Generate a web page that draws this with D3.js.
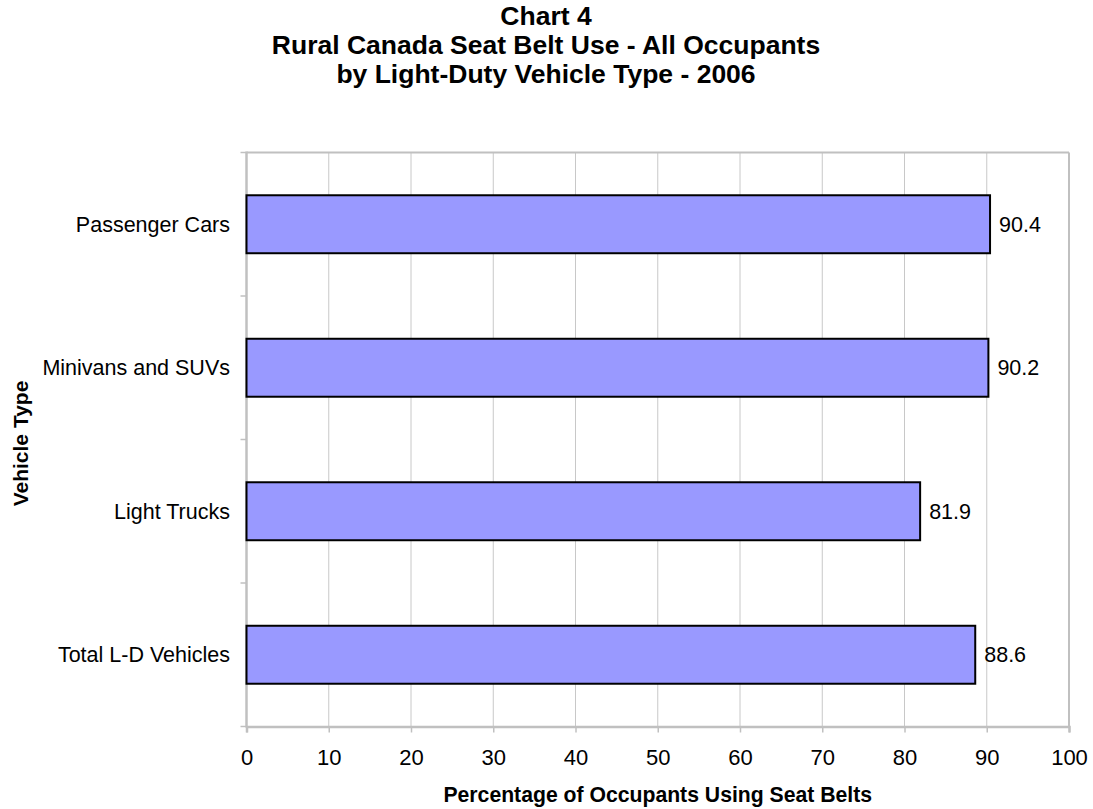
<!DOCTYPE html>
<html><head><meta charset="utf-8">
<script src="https://cdn.jsdelivr.net/npm/d3@7"></script>
<style>
body{margin:0;background:#fff;}
svg{display:block;font-family:Arial,"Liberation Sans",sans-serif;}
</style></head>
<body>
<svg id="c" width="1093" height="809"></svg>
<script>
const categories = ["Passenger Cars","Minivans and SUVs","Light Trucks","Total L-D Vehicles"];
const values = [90.4, 90.2, 81.9, 88.6];
const xTicks = [0,10,20,30,40,50,60,70,80,90,100];
const titleLines = ["Chart 4","Rural Canada Seat Belt Use - All Occupants","by Light-Duty Vehicle Type - 2006"];
const xTitle = "Percentage of Occupants Using Seat Belts";
const yTitle = "Vehicle Type";

const svg = d3.select("#c");
const L=246.5, R=1069, T=152.5, B=726.5;
const x = d3.scaleLinear().domain([0,100]).range([L,R]);
const y = d3.scaleBand().domain(categories).range([T,B]).padding(0);
const barH = y.bandwidth()*0.404;

// gridlines
svg.append("g").selectAll("line").data(xTicks.slice(1,-1)).join("line")
  .attr("x1",d=>x(d)).attr("x2",d=>x(d)).attr("y1",T).attr("y2",B)
  .attr("stroke","#c8c8c8").attr("stroke-width",1);

// border top/right
svg.append("line").attr("x1",L).attr("x2",R).attr("y1",T).attr("y2",T).attr("stroke","#c0c0c0").attr("stroke-width",2);
svg.append("line").attr("x1",R).attr("x2",R).attr("y1",T).attr("y2",B).attr("stroke","#c0c0c0").attr("stroke-width",2);

// x axis
const xa = svg.append("g").attr("transform",`translate(0,${B})`)
  .call(d3.axisBottom(x).tickValues(xTicks).tickSize(6).tickPadding(17).tickFormat(d3.format("d")));
xa.select(".domain").attr("stroke","#c0c0c0").attr("stroke-width",2.5);
xa.selectAll(".tick line").attr("stroke","#c0c0c0").attr("stroke-width",1.5);
xa.selectAll(".tick text").attr("font-size",22).attr("fill","#000").attr("font-family","Arial, 'Liberation Sans', sans-serif");

// y axis ticks at band boundaries
const bounds = categories.map(c=>y(c)).concat([B]);
svg.append("g").selectAll("line").data(bounds).join("line")
  .attr("x1",L-6).attr("x2",L).attr("y1",d=>d).attr("y2",d=>d)
  .attr("stroke","#c0c0c0").attr("stroke-width",1.5);
svg.append("line").attr("x1",L).attr("x2",L).attr("y1",T-1).attr("y2",B+1).attr("stroke","#c0c0c0").attr("stroke-width",2.5);

// category labels
svg.append("g").selectAll("text").data(categories).join("text")
  .attr("x",L-16.5).attr("y",d=>y(d)+y.bandwidth()/2).attr("dy","0.35em")
  .attr("text-anchor","end").attr("font-size",21.5).attr("fill","#000").text(d=>d);

// bars
svg.append("g").selectAll("rect").data(values).join("rect")
  .attr("x",x(0)).attr("y",(d,i)=>y(categories[i])+y.bandwidth()/2-barH/2)
  .attr("width",d=>x(d)-x(0)).attr("height",barH)
  .attr("fill","#9999ff").attr("stroke","#000").attr("stroke-width",2);

// value labels
svg.append("g").selectAll("text").data(values).join("text")
  .attr("x",d=>x(d)+9).attr("y",(d,i)=>y(categories[i])+y.bandwidth()/2).attr("dy","0.35em")
  .attr("font-size",21.5).attr("fill","#000").text(d=>d3.format(".1f")(d));

// titles
svg.append("g").selectAll("text").data(titleLines).join("text")
  .attr("x",546).attr("y",(d,i)=>25+i*29).attr("text-anchor","middle")
  .attr("font-size",26.5).attr("font-weight","bold").attr("fill","#000").text(d=>d);

svg.append("text").attr("x",(L+R)/2).attr("y",802).attr("text-anchor","middle")
  .attr("font-size",21.2).attr("font-weight","bold").text(xTitle);

svg.append("text").attr("transform",`translate(28,${(T+B)/2+4}) rotate(-90)`).attr("text-anchor","middle")
  .attr("font-size",21).attr("font-weight","bold").text(yTitle);
</script>
</body></html>
